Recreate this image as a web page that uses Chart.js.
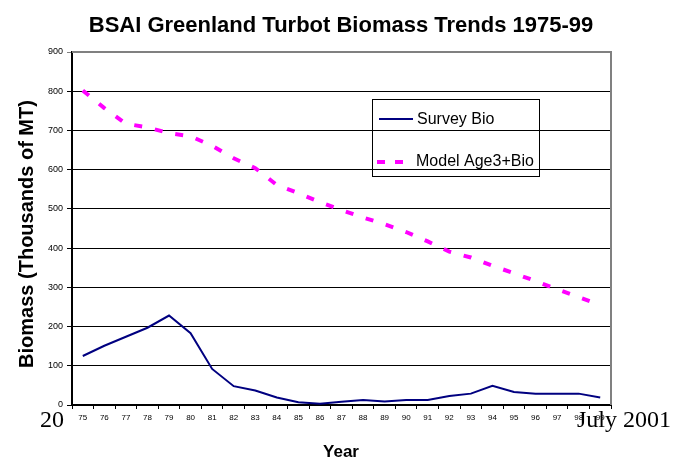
<!DOCTYPE html>
<html>
<head>
<meta charset="utf-8">
<script src="https://cdn.jsdelivr.net/npm/chart.js@4.4.0/dist/chart.umd.min.js"></script>
<style>
  body { margin: 0; background: #fff; }
  canvas { display: block; }
</style>
</head>
<body>
<canvas id="chart" width="682" height="460"></canvas>
<script>
const years = ['75', '76', '77', '78', '79', '80', '81', '82', '83', '84', '85', '86', '87',
    '88', '89', '90', '91', '92', '93', '94', '95', '96', '97', '98', '99'];
const surveyBio = [125, 151, 174, 197, 228, 183, 92, 48, 37, 19, 7, 3, 8,
    13, 9, 13, 13, 23, 29, 49, 33, 29, 29, 29, 19];
const modelBio = [802, 757, 717, 708, 693, 685, 661, 629, 604, 561, 540, 517, 497,
    478, 461, 441, 417, 391, 376, 355, 336, 316, 295, 275, 255];
const seriesNames = ['Survey Bio', 'Model Age3+Bio'];

// titles, legend box, footer text and the grey frame
const decorations = {
    id: 'decorations',
    afterDraw(chart) {
        const c = chart.ctx;
        const area = chart.chartArea;
        c.save();
        // grey frame top/right
        c.strokeStyle = '#808080';
        c.lineWidth = 2;
        c.beginPath();
        c.moveTo(area.left, area.top);
        c.lineTo(area.right, area.top);
        c.lineTo(area.right, area.bottom);
        c.stroke();

        c.fillStyle = '#000';
        c.textAlign = 'center';
        c.textBaseline = 'alphabetic';
        c.font = 'bold 22px "Liberation Sans", Arial, sans-serif';
        c.fillText('BSAI Greenland Turbot Biomass Trends 1975-99', 341, 32);

        c.font = 'bold 17px "Liberation Sans", Arial, sans-serif';
        c.fillText('Year', 341, 457);

        c.save();
        c.translate(33, 234);
        c.rotate(-Math.PI / 2);
        c.font = 'bold 20px "Liberation Sans", Arial, sans-serif';
        c.fillText('Biomass (Thousands of MT)', 0, 0);
        c.restore();

        // footer
        c.font = '24px "Liberation Serif", "Times New Roman", serif';
        c.textAlign = 'left';
        c.fillText('20', 40, 427);
        c.fillText('July 2001', 577, 427);

        // legend
        c.strokeStyle = '#000';
        c.lineWidth = 1;
        c.strokeRect(372.5, 99.5, 167, 77);
        c.lineWidth = 2;
        c.strokeStyle = chart.data.datasets[0].borderColor;
        c.beginPath();
        c.moveTo(379, 119);
        c.lineTo(413, 119);
        c.stroke();
        c.lineWidth = 4;
        c.strokeStyle = chart.data.datasets[1].borderColor;
        c.setLineDash([8, 10]);
        c.beginPath();
        c.moveTo(377, 162);
        c.lineTo(412, 162);
        c.stroke();
        c.setLineDash([]);
        c.font = '16px "Liberation Sans", Arial, sans-serif';
        c.textBaseline = 'middle';
        c.fillStyle = '#000';
        c.fillText(seriesNames[0], 417, 120);
        c.fillText(seriesNames[1], 416, 162);
        c.restore();
    }
};

const ctx = document.getElementById('chart');
const mainChart = new Chart(ctx, {
    type: 'line',
    data: {
        labels: years,
        datasets: [
            {
                label: seriesNames[0],
                data: surveyBio,
                borderColor: '#000080',
                backgroundColor: 'transparent',
                borderWidth: 2,
                pointRadius: 0,
                lineTension: 0,
            },
            {
                label: seriesNames[1],
                data: modelBio,
                borderColor: '#ff00ff',
                backgroundColor: 'transparent',
                borderWidth: 4,
                borderDash: [8, 13],
                pointRadius: 0,
                lineTension: 0,
            }
        ]
    },
    options: {
        responsive: false,
        animation: false,
        devicePixelRatio: 1,
        layout: {
            padding: { left: 0, top: 52, right: 71, bottom: 0 }
        },
        plugins: {
            legend: { display: false },
            title: { display: false },
            tooltip: { enabled: false }
        },
        scales: {
            x: {
                offset: true,
                afterFit(scale) { scale.height = 55; },
                border: { color: '#000', width: 2 },
                grid: {
                    offset: true,
                    drawOnChartArea: false,
                    color: '#000',
                    tickLength: 4
                },
                ticks: {
                    color: '#000',
                    font: { family: '"Liberation Sans", Arial, sans-serif', size: 8 },
                    maxRotation: 0,
                    autoSkip: false,
                    padding: 4
                }
            },
            y: {
                min: 0,
                max: 900,
                afterFit(scale) { scale.width = 72; },
                border: { color: '#000', width: 2 },
                grid: {
                    color: (c) => c.tick && c.tick.value === 900 ? '#808080' : '#000',
                    lineWidth: 1,
                    tickLength: 5
                },
                ticks: {
                    stepSize: 100,
                    color: '#000',
                    font: { family: '"Liberation Sans", Arial, sans-serif', size: 9 },
                    padding: 4
                }
            }
        }
    },
    plugins: [decorations]
});
</script>
</body>
</html>
